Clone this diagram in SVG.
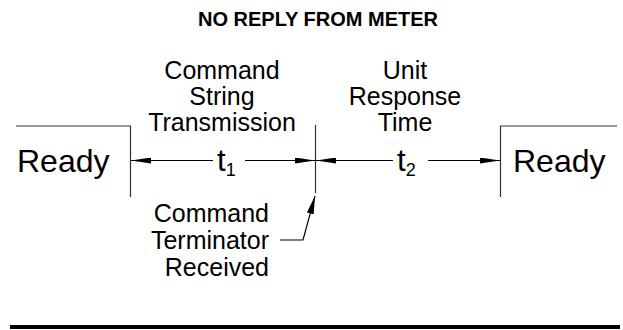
<svg xmlns="http://www.w3.org/2000/svg" width="623" height="330" viewBox="0 0 623 330">
<style>
text{font-family:"Liberation Sans",Arial,Helvetica,sans-serif;fill:#000}
.lbl{font-size:25px}
.rd{font-size:32px}
.t{font-size:31px}
.sub{font-size:18px}
.title{font-size:20px;font-weight:bold}
.ln{stroke:#333;stroke-width:1.2;fill:none}
.ar{stroke:#000;stroke-width:1.2;fill:none}
</style>
<defs>
<marker id="ah" markerUnits="userSpaceOnUse" markerWidth="20" markerHeight="6" refX="20" refY="3" orient="auto">
<path d="M0,0 L20,3 L0,6 z" fill="#000"/>
</marker>
<marker id="ah2" markerUnits="userSpaceOnUse" markerWidth="18" markerHeight="7" refX="18" refY="3.5" orient="auto">
<path d="M0,0 L18,3.5 L0,7 z" fill="#000"/>
</marker>
</defs>
<rect width="623" height="330" fill="#fff"/>
<g id="title"><text class="title" x="318" y="26" text-anchor="middle">NO REPLY FROM METER</text></g>
<g id="label-t1">
<text class="lbl" x="222" y="79" text-anchor="middle">Command</text>
<text class="lbl" x="222" y="105" text-anchor="middle">String</text>
<text class="lbl" x="222" y="131" text-anchor="middle">Transmission</text>
</g>
<g id="label-t2">
<text class="lbl" x="405" y="79" text-anchor="middle">Unit</text>
<text class="lbl" x="405" y="105" text-anchor="middle">Response</text>
<text class="lbl" x="405" y="131" text-anchor="middle">Time</text>
</g>
<g id="ready-left">
<path class="ln" d="M16,126 H130.5 V197"/>
<text class="rd" x="17" y="172">Ready</text>
</g>
<g id="ready-right">
<path class="ln" d="M617,126 H500.5 V197"/>
<text class="rd" x="513" y="172">Ready</text>
</g>
<g id="terminator">
<path class="ln" d="M315.5,125 V193"/>
<text class="lbl" x="269" y="222" text-anchor="end">Command</text>
<text class="lbl" x="269" y="249" text-anchor="end">Terminator</text>
<text class="lbl" x="269" y="276" text-anchor="end">Received</text>
</g>
<g id="t-labels">
<text class="t" x="217" y="171">t<tspan class="sub" dy="5">1</tspan></text>
<text class="t" x="397" y="171">t<tspan class="sub" dy="5">2</tspan></text>
</g>
<g id="connectors">
<line class="ar" x1="213" y1="160.5" x2="131" y2="160.5" marker-end="url(#ah)"/>
<line class="ar" x1="245" y1="160.5" x2="315" y2="160.5" marker-end="url(#ah)"/>
<line class="ar" x1="393" y1="160.5" x2="316" y2="160.5" marker-end="url(#ah)"/>
<line class="ar" x1="428" y1="160.5" x2="500" y2="160.5" marker-end="url(#ah)"/>
<polyline class="ar" points="280,240 303,240 315,196" marker-end="url(#ah2)"/>
</g>
<rect x="10" y="325" width="610" height="4" fill="#000"/>
</svg>
